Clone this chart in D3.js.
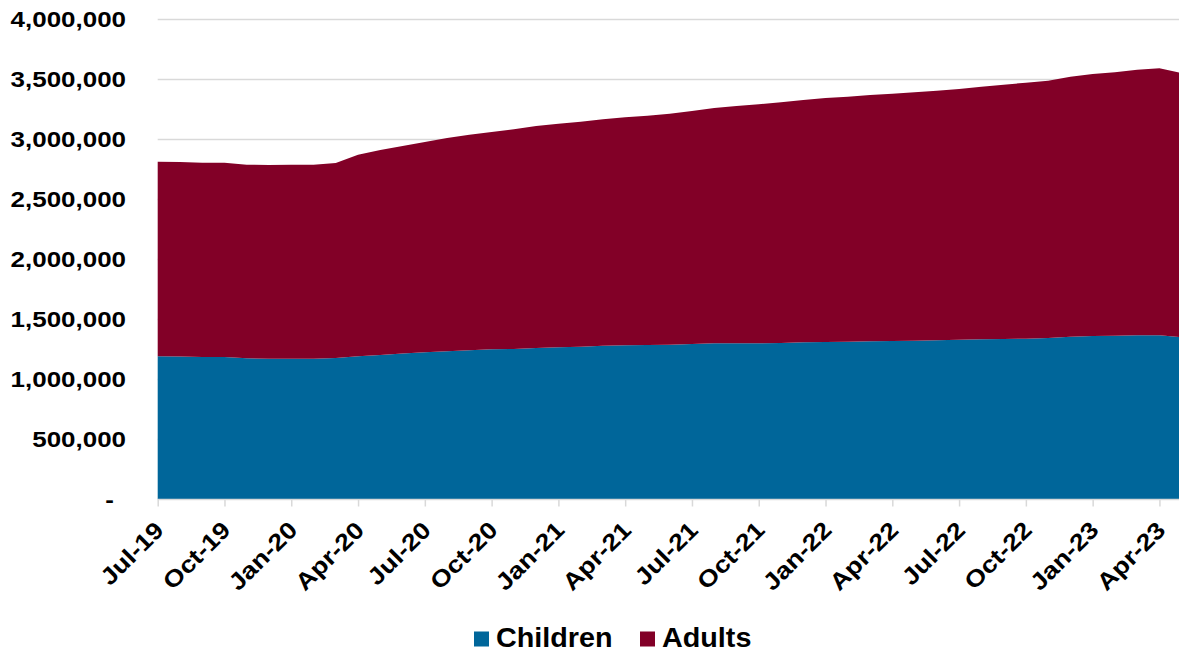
<!DOCTYPE html>
<html><head><meta charset="utf-8">
<script src="https://cdn.jsdelivr.net/npm/d3@7"></script>
<style>body{margin:0;background:#fff}svg{display:block}text{font-family:"Liberation Sans",Arial,sans-serif;font-weight:bold;fill:#000}</style>
</head><body><svg id="c" width="1179" height="654"></svg>
<script>
const months = ["Jul-19","Aug-19","Sep-19","Oct-19","Nov-19","Dec-19","Jan-20","Feb-20","Mar-20","Apr-20","May-20","Jun-20",
"Jul-20","Aug-20","Sep-20","Oct-20","Nov-20","Dec-20","Jan-21","Feb-21","Mar-21","Apr-21","May-21","Jun-21",
"Jul-21","Aug-21","Sep-21","Oct-21","Nov-21","Dec-21","Jan-22","Feb-22","Mar-22","Apr-22","May-22","Jun-22",
"Jul-22","Aug-22","Sep-22","Oct-22","Nov-22","Dec-22","Jan-23","Feb-23","Mar-23","Apr-23","May-23"];
const children = [1192000,1189000,1186000,1186000,1175000,1172000,1172000,1172000,1178000,1192000,1203000,1214000,
1225000,1233000,1242000,1250000,1253000,1261000,1267000,1272000,1280000,1283000,1286000,1288000,
1294000,1300000,1300000,1300000,1303000,1308000,1310000,1313000,1317000,1319000,1322000,1325000,
1330000,1333000,1336000,1338000,1344000,1355000,1361000,1363000,1367000,1367000,1351000];
const adults = [1621000,1621000,1619000,1619000,1613000,1614000,1616000,1616000,1625000,1680000,1708000,1730000,
1753000,1778000,1796000,1810000,1830000,1850000,1863000,1875000,1887000,1900000,1911000,1925000,
1942000,1961000,1978000,1992000,2005000,2020000,2035000,2042000,2052000,2061000,2070000,2080000,
2089000,2105000,2119000,2134000,2144000,2167000,2183000,2195000,2213000,2225000,2201000];
const seriesNames = ["Children","Adults"];
const colors = ["#00669a","#820027"];
const yTicks = [0,500000,1000000,1500000,2000000,2500000,3000000,3500000,4000000];

const svg = d3.select("#c");
const x = d3.scalePoint().domain(months).range([157.7, 1181.7]);
const y = d3.scaleLinear().domain([0,4000000]).range([499.3, 19.3]);

const data = months.map((m,i)=>({m, Children:children[i], Adults:adults[i]}));
const stack = d3.stack().keys(seriesNames)(data);

// gridlines
svg.append("g").selectAll("line").data(yTicks.slice(1)).join("line")
  .attr("x1",157.7).attr("x2",1179).attr("y1",d=>Math.round(y(d))+0.5).attr("y2",d=>Math.round(y(d))+0.5)
  .attr("stroke","#d9d9d9").attr("stroke-width",1.5);

const area = d3.area().x(d=>x(d.data.m)).y0(d=>y(d[0])).y1(d=>y(d[1]));
svg.append("g").selectAll("path").data(stack).join("path")
  .attr("d",area).attr("fill",(d,i)=>colors[i]);

// y axis labels
const fmt = d3.format(",");
svg.append("g").selectAll("text").data(yTicks).join("text")
  .attr("transform",d=>`translate(${d===0?114:126},${y(d)+8}) scale(1.18,1)`)
  .attr("text-anchor","end").style("font-size","22px")
  .text(d=>d===0?"-":fmt(d));

// x axis
const xAxis = d3.axisBottom(x).tickValues(months.filter((m,i)=>i%3===0)).tickSize(7).tickPadding(4);
const gx = svg.append("g").attr("transform","translate(0,499.5)").call(xAxis);
gx.select(".domain").attr("stroke","#d9d9d9").attr("stroke-width",1.5).attr("d","M157.7,0H1179");
gx.selectAll(".tick line").attr("stroke","#d9d9d9").attr("stroke-width",1.5);
gx.selectAll(".tick text").attr("text-anchor","end").attr("dy",null)
  .attr("transform","translate(7,32) rotate(-45) scale(1.15,1)").attr("x",0).attr("y",0)
  .style("font-size","23.5px").style("font-family","'Liberation Sans',Arial,sans-serif").style("font-weight","bold").attr("fill","#000");

// legend
const leg = svg.append("g");
const legItems = [{n:"Children",c:colors[0],x:474},{n:"Adults",c:colors[1],x:640}];
legItems.forEach(it=>{
  leg.append("rect").attr("x",it.x).attr("y",631.5).attr("width",15).attr("height",15).attr("fill",it.c);
  leg.append("text").attr("transform",`translate(${it.x+22},646.5) scale(1.065,1)`).style("font-size","27px").text(it.n);
});
</script></body></html>
